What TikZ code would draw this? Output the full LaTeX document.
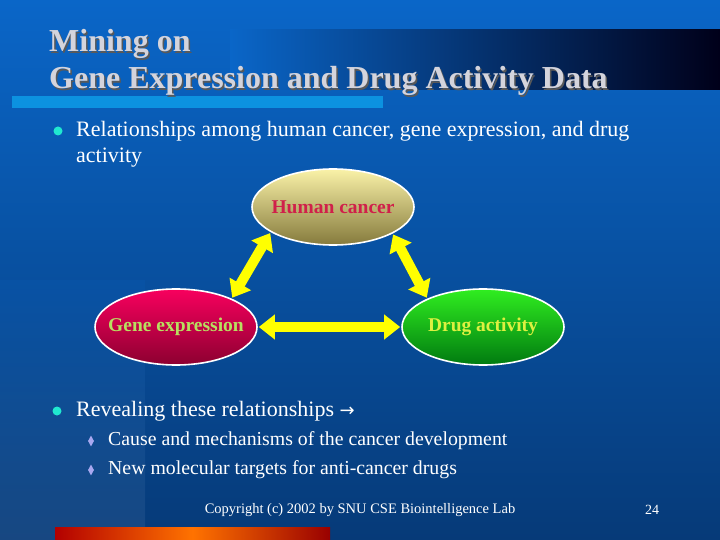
\documentclass[tikz,border=0pt]{standalone}
\usepackage{fontspec}
\setmainfont{Liberation Serif}
\usetikzlibrary{shapes.geometric,arrows.meta,shadows}
\definecolor{bgtop}{HTML}{0A66C8}
\definecolor{bgbot}{HTML}{063A78}
\definecolor{titlec}{HTML}{D4D4DC}
\definecolor{barblue}{HTML}{0C92E0}
\definecolor{hctop}{HTML}{FAF2A8}
\definecolor{hcbot}{HTML}{857A3C}
\definecolor{hctext}{HTML}{D0204A}
\definecolor{getop}{HTML}{F8005E}
\definecolor{gebot}{HTML}{8C0030}
\definecolor{getext}{HTML}{B8E060}
\definecolor{datop}{HTML}{30EE20}
\definecolor{dabot}{HTML}{007A10}
\definecolor{datext}{HTML}{DDF040}
\definecolor{arrowy}{HTML}{FFFF00}
\definecolor{dotc}{HTML}{20E8D0}
\definecolor{diac}{HTML}{A8A8F0}
\tikzset{
  ell/.style={ellipse, draw=white, line width=1.6pt, minimum width=162pt, minimum height=76pt, inner xsep=-15pt, inner ysep=0pt, font=\bfseries\fontsize{19.5}{21}\selectfont},
  link/.style={arrowy, line width=10pt, {Triangle[width=24pt,length=16pt]}-{Triangle[width=24pt,length=16pt]}, shorten <=1pt, shorten >=1pt},
  body/.style={anchor=west, text=white, font=\fontsize{22}{24}\selectfont, inner sep=0pt},
  sub/.style={anchor=west, text=white, font=\fontsize{19.8}{22}\selectfont, inner sep=0pt},
  dot/.style={circle, fill=dotc, minimum size=9pt, inner sep=0pt},
  dia/.style={diamond, fill=diac, minimum width=6pt, minimum height=11pt, inner sep=0pt},
  ttl/.style={anchor=west, font=\bfseries\fontsize{32}{37}\selectfont, inner sep=0pt},
}
\begin{document}
\begin{tikzpicture}[x=1pt,y=-1pt]
\useasboundingbox (0,0) rectangle (720,540);
\shade[top color=bgtop, bottom color=bgbot] (0,0) rectangle (720,540);
\shade[top color=bgtop!70!bgbot, bottom color=bgbot!80!white, opacity=0.35] (0,280) rectangle (145,540);
\shade[left color=bgtop, right color=black!90!blue] (230,30) rectangle (720,90);
\fill[barblue] (12,96) rectangle (383,108);
\shade[left color=red!70!black, right color=red!60!black, middle color=orange!90!red] (55,527) rectangle (330,540);
\node[ttl, text=black!65] at (50.5,45.5) {Mining on};
\node[ttl, text=black!65] at (50.5,82.5) {Gene Expression and Drug Activity Data};
\node[ttl, text=titlec] (title1) at (49,44) {Mining on};
\node[ttl, text=titlec] (title2) at (49,81) {Gene Expression and Drug Activity Data};
\node[dot] (b1) at (58,131) {};
\node[body] (t1) at (76,131) {Relationships among human cancer, gene expression, and drug};
\node[body] (t1b) at (76,158) {activity};
\node[ell, top color=hctop, bottom color=hcbot, text=hctext] (hc) at (333,207) {Human cancer};
\node[ell, top color=getop, bottom color=gebot, text=getext] (ge) at (176,327) {Gene expression};
\node[ell, top color=datop, bottom color=dabot, text=datext] (da) at (483,327) {Drug activity};
\draw[link] (ge.27) -- (hc.-158);
\draw[link] (hc.-24) -- (da.153);
\draw[link] (ge.east) -- (da.west);
\node[dot] (b2) at (57,411) {};
\node[body] (t2) at (76,411) {Revealing these relationships \fontspec{DejaVu Sans}\fontsize{18}{20}\selectfont →};
\node[dia] (d1) at (91,441) {};
\node[sub] (s1) at (108,441) {Cause and mechanisms of the cancer development};
\node[dia] (d2) at (91,470) {};
\node[sub] (s2) at (108,470) {New molecular targets for anti-cancer drugs};
\node[text=white, font=\fontsize{14.5}{16}\selectfont] (copy) at (360,510) {Copyright (c) 2002 by SNU CSE Biointelligence Lab};
\node[text=white, font=\fontsize{14}{16}\selectfont] (pg) at (652,510) {24};
\end{tikzpicture}
\end{document}
